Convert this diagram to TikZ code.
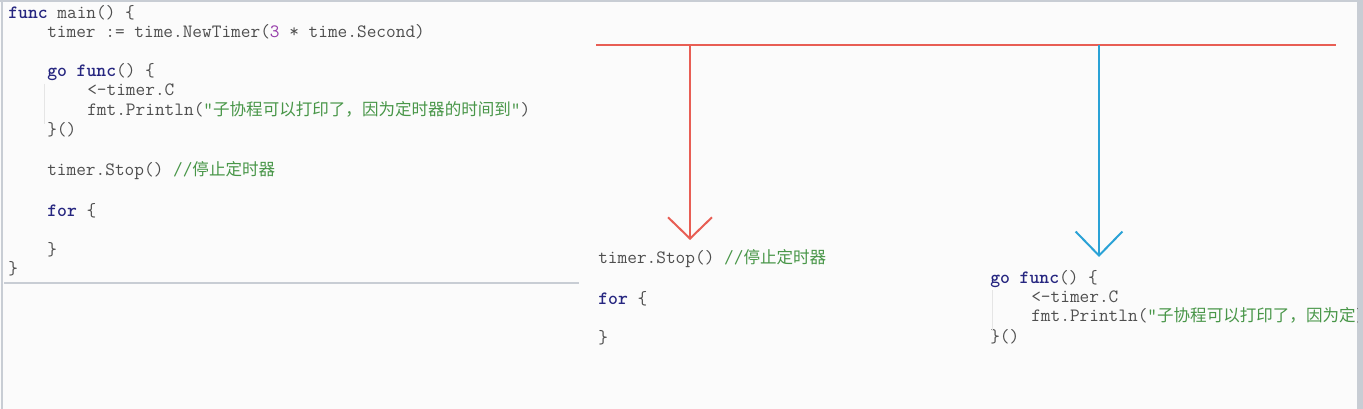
\documentclass[tikz,border=0pt]{standalone}
\usepackage{fontspec}
\newfontfamily\cjk[Scale=0.88]{Noto Sans CJK SC}
\usetikzlibrary{arrows.meta, positioning}
\definecolor{codegray}{RGB}{78,78,78}
\definecolor{keyblue}{RGB}{38,38,128}
\definecolor{strgreen}{RGB}{72,150,72}
\definecolor{numpurple}{RGB}{150,60,170}
\definecolor{lineRed}{RGB}{232,94,84}
\definecolor{lineBlue}{RGB}{42,162,214}
\definecolor{paper}{RGB}{251,251,251}
\definecolor{panelgray}{RGB}{200,205,212}
\newcommand{\codefont}{\fontsize{14.1}{16}\selectfont\ttfamily}
\newcommand{\kw}[1]{\textcolor{keyblue}{\bfseries #1}}
\newcommand{\strg}[1]{\textcolor{strgreen}{#1}}
\newcommand{\zh}[1]{{\cjk #1}}

\begin{document}
\begin{tikzpicture}[
                x=0.75pt, y=-0.75pt,
                code/.style={anchor=base west, inner sep=0pt, font=\codefont, text=codegray},
                redline/.style={draw=lineRed, line width=1.5pt},
                blueline/.style={draw=lineBlue, line width=1.5pt},
                panel/.style={draw=panelgray, line width=1.5pt},
                guide/.style={draw=gray!20, line width=0.6pt}
            ]
                \useasboundingbox (0,0) rectangle (1363,409);
                \fill[paper] (0,0) rectangle (1363,409);
                \draw[panel, line width=0.8pt] (0,1) -- (1363,1);
                \draw[panel, line width=0.8pt] (2,0) -- (2,409);
                \draw[panel] (4,283) -- (579,283);
                \fill[panelgray] (1357,0) rectangle (1363,409);

                % whole program
                \node[code] (mainHead) at (8,19) {\kw{func} main() \{};
                \node[code] (timerLine) at (47,38) {timer := time.NewTimer(\textcolor{numpurple}{3} * time.Second)};
                \node[code] (goLine) at (47,77) {\kw{go} \kw{func}() \{};
                \node[code] (recvLine) at (87,96) {<-timer.C};
                \node[code] (printLine) at (87,116) {fmt.Println(\strg{"\zh{子协程可以打印了，因为定时器的时间到}"})};
                \node[code] (goClose) at (47,136) {\}()};
                \node[code] (stopLine) at (47,176) {timer.Stop() \strg{//\zh{停止定时器}}};
                \node[code] (forLine) at (47,217) {\kw{for} \{};
                \node[code] (forClose) at (47,256) {\}};
                \node[code] (mainClose) at (8,275) {\}};
                \draw[guide] (44,84) -- (44,124);

                % main goroutine goes on
                \node[code] (stopAfter) at (598,264) {timer.Stop() \strg{//\zh{停止定时器}}};
                \node[code] (forAfter) at (598,305) {\kw{for} \{};
                \node[code] (forAfterClose) at (598,344) {\}};

                % child goroutine
                \node[code] (goAfter) at (990,284) {\kw{go} \kw{func}() \{};
                \node[code] (recvAfter) at (1031,303) {<-timer.C};
                \begin{scope}
                    \clip (1000,306) rectangle (1357,332);
                    \node[code] (printAfter) at (1031,322) {fmt.Println(\strg{"\zh{子协程可以打印了，因为定}})};
                \end{scope}
                \node[code] (goAfterClose) at (990,343) {\}()};
                \draw[guide] (992,290) -- (992,330);

                % timeline
                \coordinate (lineStart) at (596,45);
                \coordinate (lineEnd) at (1336,45);
                \coordinate (redTop) at (690,45);
                \coordinate (redTip) at (690,240);
                \coordinate (blueTop) at (1099,45);
                \coordinate (blueTip) at (1099,257);
                \draw[redline] (lineStart) -- (lineEnd);
                \draw[redline, -{Straight Barb[length=16pt, width=33pt]}] (redTop) -- (redTip);
                \draw[blueline, -{Straight Barb[length=18pt, width=35pt]}] (blueTop) -- (blueTip);
            \end{tikzpicture}
\end{document}
